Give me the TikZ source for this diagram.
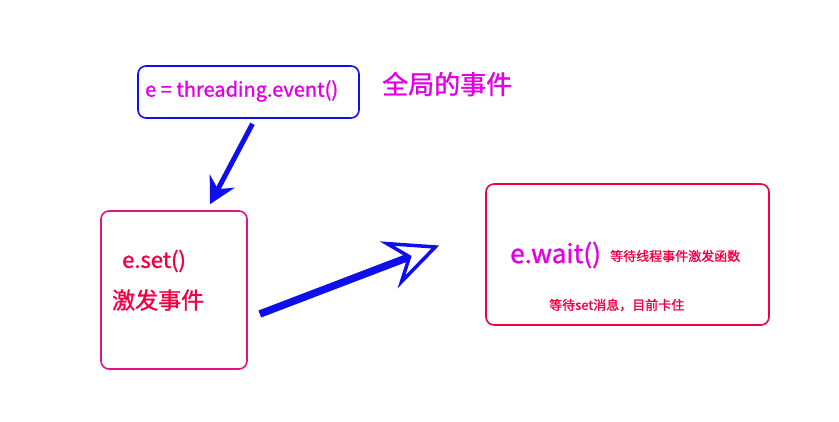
\documentclass[tikz,border=0pt]{standalone}
\usepackage{fontspec}
\setmainfont{Noto Sans CJK SC}[FakeBold=1.2]
\usepackage{tikz}
\usetikzlibrary{arrows.meta,positioning,calc}
\definecolor{evblue}{RGB}{15,15,235}
\definecolor{evmagenta}{RGB}{225,0,230}
\definecolor{evred}{RGB}{240,0,65}
\definecolor{evpink}{RGB}{225,20,130}

\begin{document}
\begin{tikzpicture}[
  x=1pt, y=-1pt,
  box/.style={draw, rounded corners=8pt, line width=1.6pt, minimum width=#1},
  txt/.style={inner sep=0pt, anchor=west, font=\bfseries},
  arr/.style={draw=evblue, line width=5pt}
]
\useasboundingbox (0,0) rectangle (839,422);
\node[box=221pt, draw=evblue, minimum height=52pt] (event) at (248.5,92) {};
\node[box=146pt, draw=evpink, minimum height=158pt] (setbox) at (174,290) {};
\node[box=283pt, draw=evred, minimum height=141pt] (waitbox) at (627.5,254.5) {};
% texts
\node[txt, text=evmagenta, font=\fontsize{20}{24}\selectfont] (eventtxt) at (145,91) {e = threading.event()};
\node[txt, text=evmagenta, font=\fontsize{26}{30}\selectfont] (global) at (382,84) {全局的事件};
\node[txt, text=evred, font=\fontsize{22}{26}\selectfont] (settxt) at (122,261) {e.set()};
\node[txt, text=evred, font=\fontsize{23}{27}\selectfont] (fire) at (112,300) {激发事件};
\node[txt, text=evmagenta, font=\fontsize{26}{30}\selectfont] (waittxt) at (510,255) {e.wait()};
\node[txt, text=evred, font=\fontsize{13}{16}\selectfont] (waitnote) at (610,256) {等待线程事件激发函数};
\node[txt, text=evred, font=\fontsize{13}{16}\selectfont] (block) at (549,305) {等待set消息，目前卡住};
% arrows
\draw[arr, -{Stealth[length=26pt, width=28pt, inset=9pt]}] ($(event.south)+(4,5)$) -- ($(setbox.north)+(36,-6)$);
\draw[arr, line width=7.5pt, -{Stealth[open, length=54pt, width=50pt, inset=20pt, line width=3.5pt]}] ($(setbox.east)+(12,24)$) -- ($(waitbox.west)+(-46,-9)$);
\end{tikzpicture}
\end{document}
